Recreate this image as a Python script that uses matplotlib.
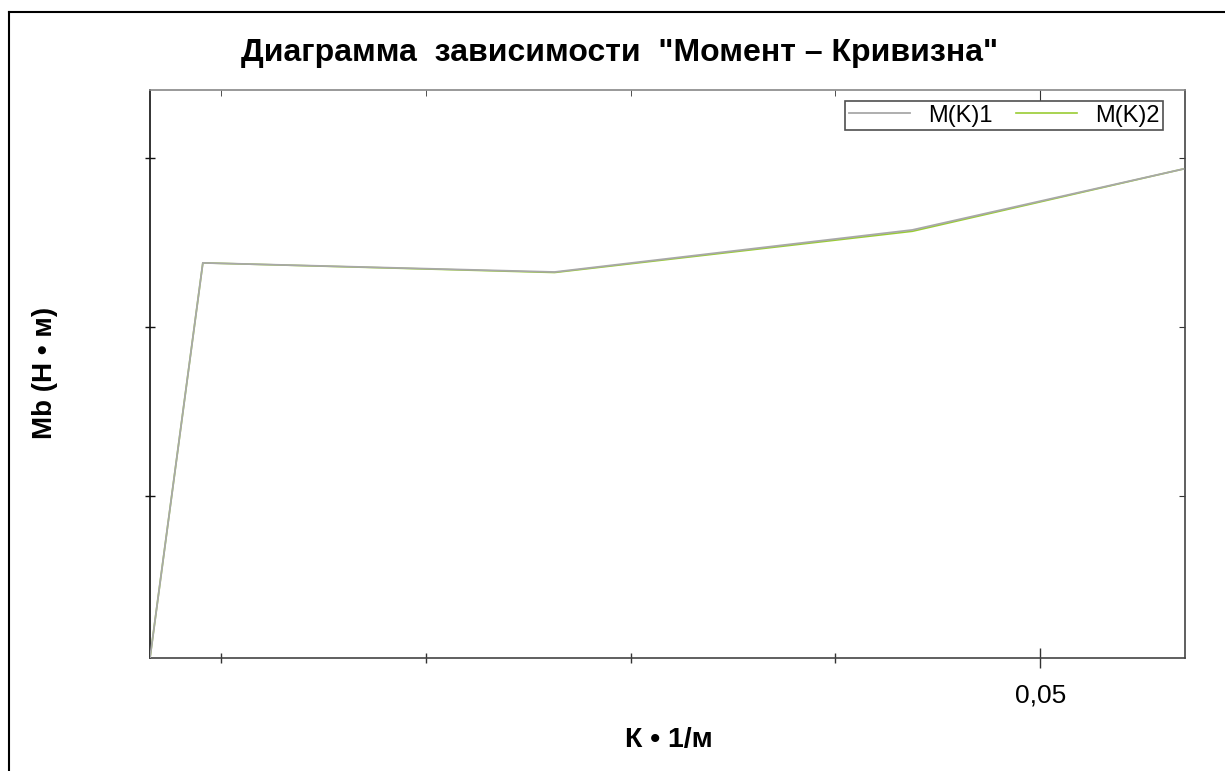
import matplotlib
matplotlib.use("Agg")
import matplotlib.pyplot as plt
from matplotlib.lines import Line2D
from matplotlib.ticker import FixedLocator, FuncFormatter

plt.rcParams['font.family'] = ['Liberation Sans', 'DejaVu Sans']

# curvature K (1/m) and bending moment Mb (N*m)
curv = [0.00654, 0.00912, 0.02629, 0.04376, 0.05700]
moment1 = [41, 2379, 2325, 2574, 2935]
moment2 = [41, 2379, 2322, 2566, 2935]

x_major = [0.05]
x_minor = [0.01, 0.02, 0.03, 0.04]
y_ticks = [1000, 2000, 3000]

fig = plt.figure(figsize=(12.25, 7.71), dpi=100)
ax = fig.add_axes([150/1225, 1-658/771, 1035/1225, 568/771])

ax.plot(curv, moment2, color='#99cc33', lw=1.2, label='M(K)2', zorder=2)
ax.plot(curv, moment1, color='#a8a8a8', lw=1.3, label='M(K)1', zorder=3)

ax.set_xlim(0.00654, 0.05707)
ax.set_ylim(41, 3402)

ax.xaxis.set_major_locator(FixedLocator(x_major))
ax.xaxis.set_minor_locator(FixedLocator(x_minor))
ax.xaxis.set_major_formatter(FuncFormatter(lambda v, p: ('%.2f' % v).replace('.', ',')))
ax.yaxis.set_major_locator(FixedLocator(y_ticks))
ax.yaxis.set_major_formatter(FuncFormatter(lambda v, p: ''))

ax.tick_params(axis='x', which='major', direction='inout', length=14.4, width=1,
               color='#333333', labelsize=19, pad=11)
ax.tick_params(axis='x', which='minor', direction='inout', length=7.2, width=1, color='#333333')
ax.tick_params(axis='y', which='major', direction='inout', length=7.2, width=1, color='#111111')

for s in ax.spines.values():
    s.set_color('#444444')
    s.set_linewidth(1.2)
ax.spines['left'].set_color('#111111')
ax.spines['top'].set_color('#888888')

# inward ticks on the top and right sides
top = ax.secondary_xaxis('top')
top.xaxis.set_major_locator(FixedLocator(x_major))
top.xaxis.set_minor_locator(FixedLocator(x_minor))
top.tick_params(which='major', direction='in', length=7.2, color='#333333', labeltop=False)
top.tick_params(which='minor', direction='in', length=4.3, color='#333333')
top.spines['top'].set_visible(False)
right = ax.secondary_yaxis('right')
right.yaxis.set_major_locator(FixedLocator(y_ticks))
right.tick_params(direction='in', length=4.3, color='#333333', labelright=False)
right.spines['right'].set_visible(False)

leg = ax.legend(handles=ax.get_lines()[::-1], ncol=2, loc='upper right',
                bbox_to_anchor=(1163/1225, 1-101/771), bbox_transform=fig.transFigure,
                fontsize=17, frameon=True, fancybox=False, handlelength=2.6,
                columnspacing=1.0, handletextpad=0.75, borderpad=0.15,
                borderaxespad=0)
leg.get_frame().set_edgecolor('#222222')
leg.get_frame().set_linewidth(1.2)

fig.text(620/1225, 1-53/771, 'Диаграмма  зависимости  "Момент – Кривизна"',
         ha='center', va='center', fontsize=23, fontweight='bold')
fig.text(669/1225, 1-740/771, 'К • 1/м', ha='center', va='center',
         fontsize=20.5, fontweight='bold')
fig.text(44.5/1225, 1-373/771, 'Mb (Н • м)', ha='center', va='center',
         rotation=90, fontsize=20, fontweight='bold')

# outer frame of the sheet
fig.add_artist(Line2D([8.5/1225, 8.5/1225], [0, 1-12/771], transform=fig.transFigure,
                      color='black', lw=1.5))
fig.add_artist(Line2D([8.5/1225, 1], [1-12/771, 1-12/771], transform=fig.transFigure,
                      color='black', lw=1.5))

fig.savefig('out.png', dpi=100)
